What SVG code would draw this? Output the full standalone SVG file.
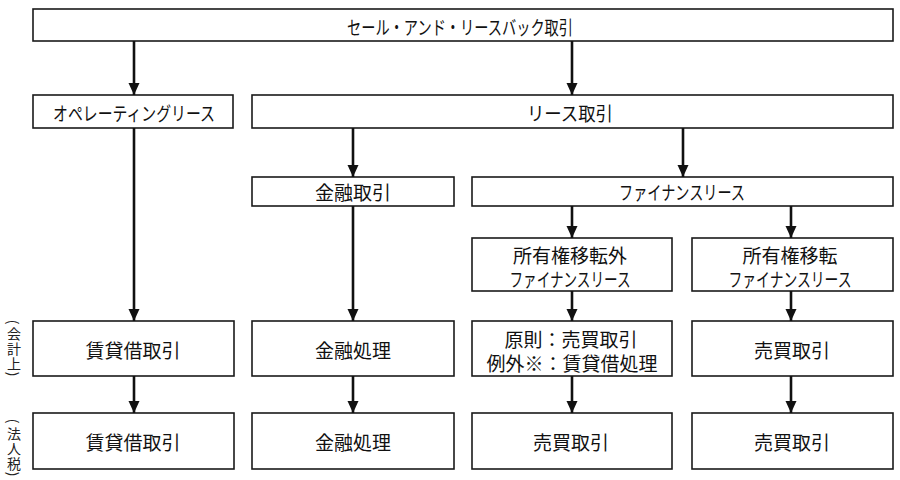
<svg xmlns="http://www.w3.org/2000/svg" width="900" height="480" viewBox="0 0 900 480">
<style>
.box{fill:#fff;stroke:#1a1a1a;stroke-width:1.6}
.t{font-family:"Noto Sans CJK JP","Noto Sans",sans-serif;font-size:19px;fill:#111;text-anchor:middle;dominant-baseline:central}
.k{font-size:19px}
.s{font-family:"Noto Sans CJK JP",sans-serif;font-size:14px;fill:#222;text-anchor:middle;dominant-baseline:central}
.c line{stroke:#111;stroke-width:2.6;marker-end:url(#ah)}
</style>
<defs>
<marker id="ah" markerUnits="userSpaceOnUse" markerWidth="12" markerHeight="12" viewBox="0 0 12 12" refX="12" refY="6" orient="auto">
<path d="M0,0.5 L12,6 L0,11.5 Z" fill="#111"/>
</marker>
</defs>
<rect width="900" height="480" fill="#fff"/>
<g id="top"><rect class="box" x="33" y="9" width="860" height="32"/><text class="t k" x="460" y="26" textLength="226" lengthAdjust="spacingAndGlyphs">セール・アンド・リースバック取引</text></g>
<g id="oplease"><rect class="box" x="33" y="95" width="200" height="33"/><text class="t k" x="134" y="112" textLength="162" lengthAdjust="spacingAndGlyphs">オペレーティングリース</text></g>
<g id="lease"><rect class="box" x="252" y="95" width="641" height="33"/><text class="t k" x="570" y="112" textLength="86" lengthAdjust="spacingAndGlyphs">リース取引</text></g>
<g id="kinyu"><rect class="box" x="252" y="177" width="202" height="29"/><text class="t" x="353" y="191">金融取引</text></g>
<g id="finance"><rect class="box" x="472" y="177" width="421" height="29"/><text class="t k" x="682" y="191" textLength="126" lengthAdjust="spacingAndGlyphs">ファイナンスリース</text></g>
<g id="itengai"><rect class="box" x="472" y="238" width="200" height="53"/><text class="t" x="570" y="254">所有権移転外</text><text class="t k" x="570" y="278" textLength="121" lengthAdjust="spacingAndGlyphs">ファイナンスリース</text></g>
<g id="iten"><rect class="box" x="692" y="238" width="201" height="53"/><text class="t" x="790" y="254">所有権移転</text><text class="t k" x="790" y="278" textLength="123" lengthAdjust="spacingAndGlyphs">ファイナンスリース</text></g>
<g id="acc1"><rect class="box" x="33" y="321" width="201" height="55"/><text class="t" x="133" y="349">賃貸借取引</text></g>
<g id="acc2"><rect class="box" x="252" y="321" width="202" height="55"/><text class="t" x="353" y="349">金融処理</text></g>
<g id="acc3"><rect class="box" x="472" y="321" width="200" height="55"/><text class="t" x="571" y="338">原則：売買取引</text><text class="t" x="572" y="362">例外※：賃貸借処理</text></g>
<g id="acc4"><rect class="box" x="692" y="321" width="201" height="55"/><text class="t" x="792" y="349">売買取引</text></g>
<g id="tax1"><rect class="box" x="33" y="413" width="201" height="56"/><text class="t" x="133" y="441">賃貸借取引</text></g>
<g id="tax2"><rect class="box" x="252" y="413" width="202" height="56"/><text class="t" x="353" y="441">金融処理</text></g>
<g id="tax3"><rect class="box" x="472" y="413" width="200" height="56"/><text class="t" x="571" y="441">売買取引</text></g>
<g id="tax4"><rect class="box" x="692" y="413" width="201" height="56"/><text class="t" x="792" y="441">売買取引</text></g>
<g id="label-acc">
<text class="s" transform="translate(14 322) rotate(90)">(</text>
<text class="s" x="14" y="333">会</text>
<text class="s" x="14" y="348">計</text>
<text class="s" x="14" y="363">上</text>
<text class="s" transform="translate(14 374) rotate(90)">)</text>
</g>
<g id="label-tax">
<text class="s" transform="translate(14 421) rotate(90)">(</text>
<text class="s" x="14" y="433">法</text>
<text class="s" x="14" y="448">人</text>
<text class="s" x="14" y="463">税</text>
<text class="s" transform="translate(14 474) rotate(90)">)</text>
</g>
<g class="c" id="connectors">
<line x1="134" y1="41" x2="134" y2="95"/>
<line x1="572" y1="41" x2="572" y2="95"/>
<line x1="134" y1="128" x2="134" y2="321"/>
<line x1="353" y1="128" x2="353" y2="177"/>
<line x1="683" y1="128" x2="683" y2="177"/>
<line x1="353" y1="206" x2="353" y2="321"/>
<line x1="572" y1="206" x2="572" y2="238"/>
<line x1="791" y1="206" x2="791" y2="238"/>
<line x1="572" y1="291" x2="572" y2="321"/>
<line x1="791" y1="291" x2="791" y2="321"/>
<line x1="134" y1="376" x2="134" y2="413"/>
<line x1="353" y1="376" x2="353" y2="413"/>
<line x1="572" y1="376" x2="572" y2="413"/>
<line x1="791" y1="376" x2="791" y2="413"/>
</g>
</svg>
